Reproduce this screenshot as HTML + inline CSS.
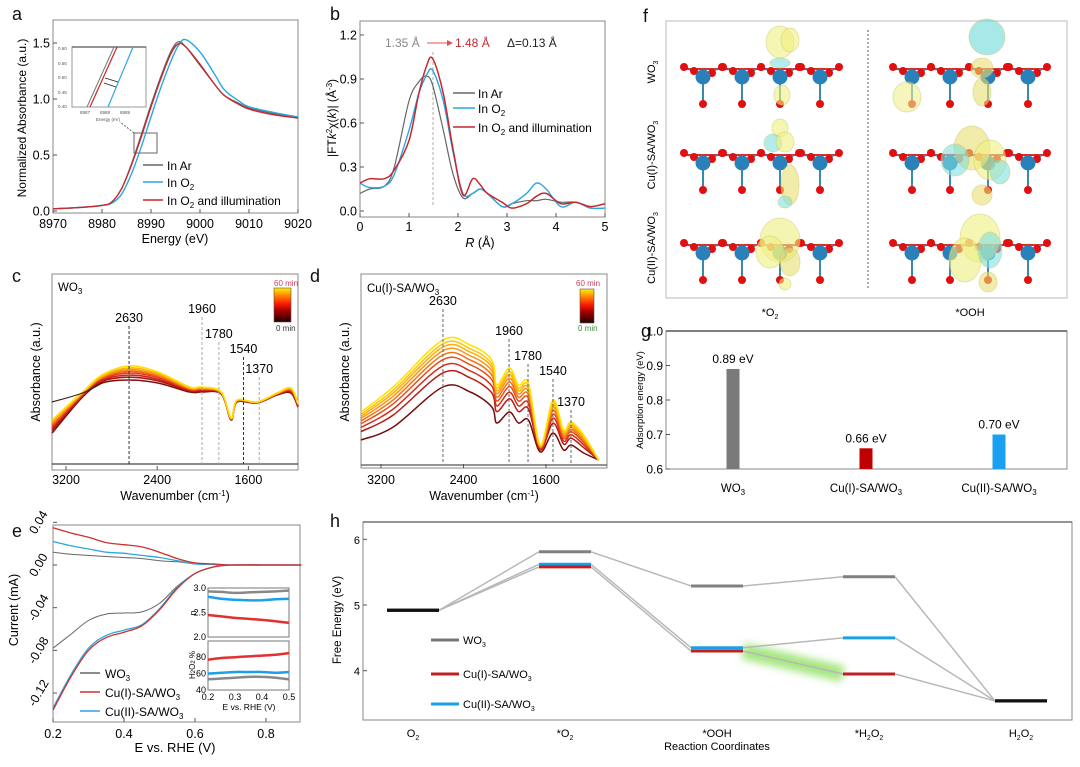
<!DOCTYPE html>
<html><head><meta charset="utf-8"><style>
html,body{margin:0;padding:0;background:#fff;}
svg{display:block;font-family:"Liberation Sans",Arial,sans-serif;}
</style></head><body>
<svg id="fig" width="1080" height="767" viewBox="0 0 1080 767" xmlns="http://www.w3.org/2000/svg">
<rect width="1080" height="767" fill="#fff"/>
<g font-size="18" fill="#111">
<text x="12" y="20">a</text><text x="330" y="20">b</text><text x="12" y="282">c</text><text x="310" y="282">d</text>
<text x="12" y="537">e</text><text x="643" y="22">f</text><text x="641" y="337">g</text><text x="330" y="527">h</text>
</g>

<g id="pa">
<rect x="53" y="20" width="245" height="193" fill="none" stroke="#888" stroke-width="1"/>
<text x="175" y="243" font-size="12.5" text-anchor="middle">Energy (eV)</text>
<text transform="translate(26,118) rotate(-90)" font-size="12" text-anchor="middle">Normalized Absorbance (a.u.)</text>
<rect x="72" y="47" width="74" height="60" fill="#fff" stroke="#999"/>
<line x1="72" y1="47" x2="146" y2="47" stroke="#555" stroke-width="1.2"/>
<line x1="87" y1="107" x2="114" y2="47" stroke="#777" stroke-width="1"/>
<line x1="90" y1="107" x2="117" y2="47" stroke="#c8282e" stroke-width="1.2"/>
<line x1="108" y1="107" x2="133" y2="47" stroke="#29a8e0" stroke-width="1.2"/>
<line x1="105" y1="78" x2="118" y2="82" stroke="#222" stroke-width="0.8"/>
<line x1="104" y1="83" x2="116" y2="87" stroke="#222" stroke-width="0.8"/>
<g font-size="4.5" fill="#555"><text x="58" y="50">0.60</text><text x="58" y="65">0.55</text><text x="58" y="79">0.50</text><text x="58" y="94">0.45</text><text x="58" y="108">0.40</text>
<text x="80" y="114">8987</text><text x="100" y="114">8988</text><text x="120" y="114">8989</text><text x="96" y="121">Energy (eV)</text></g>
<rect x="134" y="133" width="23" height="20" fill="none" stroke="#555" stroke-width="0.9"/>
<line x1="134" y1="133" x2="120" y2="122" stroke="#444" stroke-width="0.8" stroke-dasharray="2,1.5"/>
<g id="a-lines"></g><g id="a-ticks" font-size="12.5"></g>
<g font-size="12">
<line x1="143" y1="165" x2="163" y2="165" stroke="#666" stroke-width="1.4"/><text x="167" y="170">In Ar</text>
<line x1="143" y1="182" x2="163" y2="182" stroke="#29a8e0" stroke-width="1.4"/><text x="167" y="187">In O<tspan font-size="8" dy="3">2</tspan></text>
<line x1="143" y1="200" x2="163" y2="200" stroke="#c8282e" stroke-width="1.4"/><text x="167" y="205">In O<tspan font-size="8" dy="3">2</tspan><tspan dy="-3"> and illumination</tspan></text>
</g>
</g>

<g id="pb">
<rect x="360" y="21" width="245" height="196" fill="none" stroke="#888"/>
<text x="480" y="247" font-size="12.5" text-anchor="middle" font-style="italic">R <tspan font-style="normal">(Å)</tspan></text>
<text transform="translate(336,118) rotate(-90)" font-size="12" text-anchor="middle">|FT<tspan font-style="italic">k</tspan><tspan font-size="8" dy="-4">2</tspan><tspan dy="4">χ(</tspan><tspan font-style="italic">k</tspan>)| (Å<tspan font-size="8" dy="-4">-3</tspan><tspan dy="4">)</tspan></text>
<line x1="433" y1="52" x2="433" y2="205" stroke="#999" stroke-dasharray="3,2" stroke-width="0.8"/>
<text x="385" y="47" font-size="12" fill="#888">1.35 Å</text>
<line x1="427" y1="43" x2="447" y2="43" stroke="#e05050" stroke-width="1"/><path d="M447,40 L453,43 L447,46Z" fill="#e05050"/>
<text x="455" y="47" font-size="12" fill="#c8282e">1.48 Å</text>
<text x="507" y="47" font-size="12" fill="#222">Δ=0.13 Å</text>
<g id="b-lines"></g><g id="b-ticks" font-size="12.5"></g>
<g font-size="12">
<line x1="453" y1="93" x2="475" y2="93" stroke="#666" stroke-width="1.4"/><text x="478" y="98">In Ar</text>
<line x1="453" y1="108" x2="475" y2="108" stroke="#29a8e0" stroke-width="1.4"/><text x="478" y="113">In O<tspan font-size="8" dy="3">2</tspan></text>
<line x1="453" y1="127" x2="475" y2="127" stroke="#c8282e" stroke-width="1.4"/><text x="478" y="132">In O<tspan font-size="8" dy="3">2</tspan><tspan dy="-3"> and illumination</tspan></text>
</g>
</g>

<g id="pc">
<rect x="52" y="274" width="246" height="196" fill="none" stroke="#888"/>
<text x="58" y="291" font-size="11.5">WO<tspan font-size="8" dy="3">3</tspan></text>
<text x="175" y="500" font-size="12.5" text-anchor="middle">Wavenumber (cm<tspan font-size="8" dy="-4">-1</tspan><tspan dy="4">)</tspan></text>
<text transform="translate(40,372) rotate(-90)" font-size="12.5" text-anchor="middle">Absorbance (a.u.)</text>
<g id="c-lines"></g><g id="c-marks" font-size="12.5"></g><g id="c-ticks" font-size="12.5"></g>
</g>

<g id="pd">
<rect x="361" y="274" width="246" height="194" fill="none" stroke="#888"/>
<text x="367" y="292" font-size="11.5">Cu(I)-SA/WO<tspan font-size="8" dy="3">3</tspan></text>
<text x="484" y="500" font-size="12.5" text-anchor="middle">Wavenumber (cm<tspan font-size="8" dy="-4">-1</tspan><tspan dy="4">)</tspan></text>
<text transform="translate(349,372) rotate(-90)" font-size="12.5" text-anchor="middle">Absorbance (a.u.)</text>
<g id="d-lines"></g><g id="d-marks" font-size="12.5"></g><g id="d-ticks" font-size="12.5"></g>
</g>
<defs><linearGradient id="cbar" x1="0" y1="1" x2="0" y2="0">
<stop offset="0" stop-color="#200000"/><stop offset="0.35" stop-color="#b00000"/><stop offset="0.55" stop-color="#ff2000"/><stop offset="0.8" stop-color="#ff9000"/><stop offset="1" stop-color="#ffee00"/></linearGradient>
<filter id="glow" x="-30%" y="-200%" width="160%" height="500%"><feGaussianBlur stdDeviation="4"/></filter></defs>
<g><rect x="274" y="288" width="17" height="34" fill="url(#cbar)" stroke="#555" stroke-width="0.6"/>
<text x="274" y="286" font-size="8" fill="#d04060">60 min</text><text x="276" y="331" font-size="8" fill="#333">0 min</text></g>
<g><rect x="580" y="289" width="14" height="34" fill="url(#cbar)" stroke="#555" stroke-width="0.6"/>
<text x="576" y="286" font-size="8" fill="#d04060">60 min</text><text x="578" y="331" font-size="8" fill="#3a8a3a">0 min</text></g>

<g id="pe">
<rect x="53" y="525" width="247" height="197" fill="none" stroke="#888"/>
<text x="175" y="752" font-size="13" text-anchor="middle">E vs. RHE (V)</text>
<text transform="translate(18,610) rotate(-90)" font-size="12.5" text-anchor="middle">Current (mA)</text>
<g id="e-lines"></g><g id="e-ticks" font-size="12.5"></g>
<rect x="208" y="588" width="81" height="49" fill="#fff" stroke="#777"/>
<rect x="208" y="641" width="81" height="49" fill="#fff" stroke="#777"/>
<g id="e-inset"></g><g id="e-inset-ticks" font-size="9"></g>
<text transform="translate(196,613) rotate(-90)" font-size="9" text-anchor="middle">n</text>
<text transform="translate(195,665) rotate(-90)" font-size="8" text-anchor="middle">H<tspan font-size="6">2</tspan>O<tspan font-size="6">2</tspan> %</text>
<text x="249" y="710" font-size="8.5" text-anchor="middle">E vs. RHE (V)</text>
<g font-size="12">
<line x1="80" y1="673" x2="100" y2="673" stroke="#666" stroke-width="1.4"/><text x="105" y="678">WO<tspan font-size="8" dy="3">3</tspan></text>
<line x1="80" y1="692" x2="100" y2="692" stroke="#d03030" stroke-width="1.4"/><text x="105" y="697">Cu(I)-SA/WO<tspan font-size="8" dy="3">3</tspan></text>
<line x1="80" y1="711" x2="100" y2="711" stroke="#29a8e0" stroke-width="1.4"/><text x="105" y="716">Cu(II)-SA/WO<tspan font-size="8" dy="3">3</tspan></text>
</g>
</g>

<g id="pf">
<rect x="666" y="21" width="401" height="277" fill="none" stroke="#bbb"/>
<line x1="868" y1="30" x2="868" y2="290" stroke="#333" stroke-dasharray="2,2" stroke-width="0.8"/>
<g id="f-atoms"></g>
<text transform="translate(655,72) rotate(-90)" font-size="11" text-anchor="middle">WO<tspan font-size="7" dy="3">3</tspan></text>
<text transform="translate(655,155) rotate(-90)" font-size="11" text-anchor="middle">Cu(I)-SA/WO<tspan font-size="7" dy="3">3</tspan></text>
<text transform="translate(655,248) rotate(-90)" font-size="11" text-anchor="middle">Cu(II)-SA/WO<tspan font-size="7" dy="3">3</tspan></text>
<text x="770" y="316" font-size="11" text-anchor="middle">*O<tspan font-size="7" dy="3">2</tspan></text>
<text x="970" y="316" font-size="11" text-anchor="middle">*OOH</text>
</g>

<g id="pg">
<rect x="666" y="331" width="401" height="138" fill="none" stroke="#888"/>
<line x1="666" y1="331" x2="1067" y2="331" stroke="#555" stroke-width="1.5"/>
<text transform="translate(643,400) rotate(-90)" font-size="9.5" text-anchor="middle">Adsorption energy (eV)</text>
<g id="g-bars" font-size="12"></g><g id="g-ticks" font-size="12"></g>
</g>

<g id="ph">
<rect x="363" y="522" width="709" height="198" fill="none" stroke="#888"/>
<line x1="363" y1="522" x2="1072" y2="522" stroke="#555" stroke-width="1.3"/>
<text x="717" y="750" font-size="11" text-anchor="middle">Reaction Coordinates</text>
<text transform="translate(341,620) rotate(-90)" font-size="11.5" text-anchor="middle">Free Energy (eV)</text>
<g id="h-marks"></g><g id="h-ticks" font-size="11"></g>
<g font-size="11">
<line x1="431" y1="640" x2="459" y2="640" stroke="#777" stroke-width="3"/><text x="463" y="644">WO<tspan font-size="7" dy="3">3</tspan></text>
<line x1="431" y1="674" x2="459" y2="674" stroke="#c02020" stroke-width="3"/><text x="463" y="678">Cu(I)-SA/WO<tspan font-size="7" dy="3">3</tspan></text>
<line x1="431" y1="704" x2="459" y2="704" stroke="#1aa0e8" stroke-width="3"/><text x="463" y="708">Cu(II)-SA/WO<tspan font-size="7" dy="3">3</tspan></text>
</g>
</g>
</svg>
<script>
const aEnergy=[8970,8975,8980,8982,8984,8986,8988,8990,8992,8994,8995.5,8997,9000,9003,9005,9008,9010,9015,9020];
const aAr=[0.02,0.03,0.05,0.08,0.2,0.42,0.68,0.95,1.2,1.42,1.51,1.47,1.3,1.13,1.03,0.96,0.92,0.87,0.83];
const aO2=[0.02,0.03,0.05,0.07,0.15,0.33,0.57,0.84,1.1,1.33,1.47,1.53,1.42,1.22,1.08,0.98,0.93,0.88,0.84];
const aIll=[0.02,0.03,0.05,0.08,0.2,0.41,0.66,0.93,1.18,1.4,1.49,1.47,1.31,1.13,1.03,0.95,0.91,0.86,0.83];
const aXTicks=[8970,8980,8990,9000,9010,9020];
const aYTicks=[0.0,0.5,1.0,1.5];

const bR=[0,0.2,0.5,0.7,1.0,1.2,1.35,1.48,1.7,1.9,2.1,2.3,2.45,2.6,2.9,3.1,3.4,3.6,3.8,4.1,4.4,4.7,5];
const bAr=[0.12,0.15,0.17,0.3,0.75,0.88,0.92,0.86,0.55,0.25,0.09,0.12,0.15,0.12,0.03,0.05,0.07,0.07,0.08,0.06,0.06,0.03,0.05];
const bO2=[0.19,0.16,0.17,0.25,0.55,0.8,0.92,0.96,0.75,0.4,0.12,0.12,0.15,0.12,0.03,0.05,0.12,0.19,0.15,0.03,0.06,0.02,0.02];
const bIll=[0.19,0.22,0.22,0.28,0.48,0.8,0.98,1.04,0.8,0.42,0.11,0.22,0.18,0.12,0.06,0.02,0.05,0.1,0.12,0.05,0.06,0.03,0.05];
const bXTicks=[0,1,2,3,4,5];
const bYTicks=[0.0,0.3,0.6,0.9,1.2];

const cWn=[3322,3055,2884,2647,2394,2116,2011,1838,1752,1700,1525,1349,1227,1165];
const cTop=[0.48,0.76,0.93,1.02,0.96,0.81,0.81,0.76,0.50,0.68,0.66,0.75,0.80,0.65];
const cBottom=[0.35,0.71,0.85,0.88,0.85,0.76,0.76,0.74,0.48,0.66,0.65,0.73,0.75,0.61];
const cBlackWn=[3322,3055,2884,2647,2394,2116,1838,1735,1650,1349,1227,1165];
const cBlack=[0.66,0.75,0.85,0.87,0.85,0.76,0.73,0.65,0.68,0.73,0.76,0.65];
const cFractions=[0,0.2,0.35,0.5,0.62,0.74,0.86,1];
const cPeaks=[2647,2007,1859,1643,1505];
const cPeakLabels=["2630","1960","1780","1540","1370"];
const cPeakLabelY=[1.46,1.55,1.30,1.15,0.95];

const dWn=[3394,3081,2600,2335,2125,2077,1954,1866,1769,1656,1532,1429,1357,1234,1089];
const dBottom=[0.28,0.41,0.81,0.76,0.61,0.45,0.56,0.45,0.48,0.16,0.35,0.18,0.23,0.15,0.08];
const dTop=[0.56,0.81,1.28,1.23,1.08,0.83,1.0,0.83,0.85,0.23,0.68,0.38,0.46,0.33,0.08];
const dFractions=[0,0.3,0.45,0.58,0.68,0.77,0.85,0.92,1];
const dFlat=0.03;
const dPeaks=[2599,1958,1774,1532,1357];
const dPeakLabels=["2630","1960","1780","1540","1370"];
const dPeakLabelY=[1.63,1.33,1.08,0.93,0.62];
const irXTicks=[3200,2400,1600];

const eE=[0.2,0.25,0.3,0.35,0.4,0.45,0.5,0.55,0.6,0.65,0.7,0.8,0.9];
const eWO3Ring=[0.012,0.01,0.009,0.008,0.007,0.006,0.004,0.003,0.001,0.0005,0,0,0];
const eWO3Disk=[-0.078,-0.065,-0.052,-0.046,-0.045,-0.044,-0.036,-0.02,-0.008,-0.002,0,0,0];
const eCu1Ring=[0.035,0.03,0.026,0.021,0.019,0.017,0.012,0.006,0.002,0.001,0,0,0];
const eCu1Disk=[-0.136,-0.105,-0.08,-0.068,-0.063,-0.057,-0.042,-0.022,-0.008,-0.002,0,0,0];
const eCu2Ring=[0.022,0.018,0.015,0.012,0.011,0.009,0.007,0.004,0.001,0.0005,0,0,0];
const eCu2Disk=[-0.134,-0.103,-0.078,-0.066,-0.061,-0.056,-0.041,-0.021,-0.008,-0.002,0,0,0];
const eXTicks=[0.2,0.4,0.6,0.8];
const eYTicks=[0.04,0.00,-0.04,-0.08,-0.12];
const nE=[0.2,0.25,0.3,0.35,0.4,0.45,0.5];
const nWO3=[2.93,2.92,2.9,2.91,2.92,2.93,2.95];
const nCu1=[2.45,2.42,2.39,2.37,2.35,2.32,2.29];
const nCu2=[2.82,2.78,2.76,2.75,2.75,2.77,2.78];
const pWO3=[53,54,55,56,56,55,53];
const pCu1=[77,79,80,81,82,83,85];
const pCu2=[60,61,62,62,62,61,62];

const gCats=["WO3","Cu(I)-SA/WO3","Cu(II)-SA/WO3"];
const gVals=[0.89,0.66,0.70];
const gLabels=["0.89 eV","0.66 eV","0.70 eV"];
const gColors=["#7a7a7a","#c00000","#1aa0f0"];
const gYTicks=[0.6,0.7,0.8,0.9,1.0];

const hSteps=["O2","*O2","*OOH","*H2O2","H2O2"];
const hWO3=[4.92,5.81,5.29,5.43,3.54];
const hCu1=[4.92,5.58,4.30,3.95,3.54];
const hCu2=[4.92,5.62,4.35,4.50,3.54];
const hYTicks=[4,5,6];

const NS="http://www.w3.org/2000/svg";
function mk(tag,attrs,name,parent){
  const el=document.createElementNS(NS,tag);
  for(const k in attrs) el.setAttribute(k,attrs[k]);
  
  
  document.getElementById(parent).appendChild(el);
  return el;
}
function pathD(xs,ys,fx,fy){
  const P=xs.map((x,i)=>[fx(x),fy(ys[i])]);
  let d="M"+P[0][0].toFixed(1)+","+P[0][1].toFixed(1);
  for(let i=0;i<P.length-1;i++){
    const p0=P[Math.max(0,i-1)],p1=P[i],p2=P[i+1],p3=P[Math.min(P.length-1,i+2)];
    const c1x=p1[0]+(p2[0]-p0[0])/6,c1y=p1[1]+(p2[1]-p0[1])/6;
    const c2x=p2[0]-(p3[0]-p1[0])/6,c2y=p2[1]-(p3[1]-p1[1])/6;
    d+=" C"+c1x.toFixed(1)+","+c1y.toFixed(1)+" "+c2x.toFixed(1)+","+c2y.toFixed(1)+" "+p2[0].toFixed(1)+","+p2[1].toFixed(1);
  }
  return d;
}
function curve(parent,xs,ys,fx,fy,color,w,name){
  return mk('path',{d:pathD(xs,ys,fx,fy),fill:'none',stroke:color,'stroke-width':w},name,parent);
}
function xTicks(parent,ticks,fx,y0,fmt,ly){
  ticks.forEach(t=>{const x=fx(t);
    mk('line',{x1:x,y1:y0,x2:x,y2:y0-4,stroke:'#555'},'x-tick',parent);
    const tx=mk('text',{x:x,y:ly,'text-anchor':'middle'},'x-tick-label',parent); tx.textContent=fmt(t);});
}
function yTicks(parent,ticks,fy,x0,fmt,anchorX){
  ticks.forEach(t=>{const y=fy(t);
    mk('line',{x1:x0,y1:y,x2:x0+4,y2:y,stroke:'#555'},'y-tick',parent);
    const tx=mk('text',{x:anchorX,y:y+4.5,'text-anchor':'end'},'y-tick-label',parent); tx.textContent=fmt(t);});
}
function lerpColor(f){
  const stops=[[0,[90,10,10]],[0.3,[170,20,20]],[0.55,[225,50,30]],[0.8,[250,150,20]],[1,[255,225,0]]];
  for(let i=0;i<stops.length-1;i++){ if(f<=stops[i+1][0]){const t=(f-stops[i][0])/(stops[i+1][0]-stops[i][0]);
    const c=stops[i][1].map((v,k)=>Math.round(v+(stops[i+1][1][k]-v)*t)); return `rgb(${c[0]},${c[1]},${c[2]})`;}}
  return 'rgb(255,225,0)';
}

const ax=v=>53+(v-8970)*4.9, ay=v=>211-v*112;
curve('a-lines',aEnergy,aAr,ax,ay,'#666',1.2,'line-in-ar');
curve('a-lines',aEnergy,aO2,ax,ay,'#29a8e0',1.4,'line-in-o2');
curve('a-lines',aEnergy,aIll,ax,ay,'#c8282e',1.4,'line-in-o2-illumination');
xTicks('a-ticks',aXTicks,ax,213,t=>t,228);
yTicks('a-ticks',aYTicks,ay,53,t=>t.toFixed(1),50);

const bx=r=>360+r*49, by=v=>211-v*146.7;
curve('b-lines',bR,bAr,bx,by,'#666',1.2,'line-in-ar');
curve('b-lines',bR,bO2,bx,by,'#29a8e0',1.4,'line-in-o2');
curve('b-lines',bR,bIll,bx,by,'#c8282e',1.5,'line-in-o2-illumination');
xTicks('b-ticks',bXTicks,bx,217,t=>t,231);
yTicks('b-ticks',bYTicks,by,360,t=>t.toFixed(1),357);

const cx=v=>66+(3200-v)*0.114, iy=v=>468-v*100;
cFractions.forEach((f,i)=>{
  const ys=cBottom.map((b,k)=>b+(cTop[k]-b)*f);
  curve('c-lines',cWn,ys,cx,iy,lerpColor(0.15+0.85*f),1.6,'ir-spectrum-c');
});
curve('c-lines',cBlackWn.slice(0,3),cBlack.slice(0,3),cx,iy,'#3a2020',1.2,'ir-spectrum-c-initial');
mk('line',{x1:52,y1:iy(0.04),x2:298,y2:iy(0.04),stroke:'#444','stroke-width':1.2},'baseline-c','c-lines');
cPeaks.forEach((p,i)=>{const x=cx(p);
  mk('line',{x1:x,y1:iy(cPeakLabelY[i])+4,x2:x,y2:iy(0.04),stroke:i==0||i==3?'#333':'#aaa','stroke-dasharray':'3,2','stroke-width':1},'peak-marker-c','c-marks');
  const t=mk('text',{x:x,y:iy(cPeakLabelY[i]),'text-anchor':'middle'},'peak-label-c','c-marks'); t.textContent=cPeakLabels[i];});
xTicks('c-ticks',irXTicks,cx,470,t=>t,484);

const dx=v=>381+(3200-v)*0.1031;
dFractions.forEach((f,i)=>{
  const ys=dBottom.map((b,k)=>b+(dTop[k]-b)*f);
  curve('d-lines',dWn,ys,dx,iy,lerpColor(0.1+0.9*f),1.5,'ir-spectrum-d');
});
mk('line',{x1:361,y1:iy(dFlat),x2:607,y2:iy(dFlat),stroke:'#555','stroke-width':1.2},'initial-spectrum-d','d-lines');
dPeaks.forEach((p,i)=>{const x=dx(p);
  mk('line',{x1:x,y1:iy(dPeakLabelY[i])+4,x2:x,y2:iy(0.04),stroke:'#666','stroke-dasharray':'3,2','stroke-width':1},'peak-marker-d','d-marks');
  const t=mk('text',{x:x,y:iy(dPeakLabelY[i]),'text-anchor':'middle'},'peak-label-d','d-marks'); t.textContent=dPeakLabels[i];});
xTicks('d-ticks',irXTicks,dx,468,t=>t,484);

const ex=v=>53+(v-0.2)*355, ey=v=>565-v*1067;
curve('e-lines',eE,eWO3Ring,ex,ey,'#666',1,'ring-current-wo3');
curve('e-lines',eE,eWO3Disk,ex,ey,'#666',1,'disk-current-wo3');
curve('e-lines',eE,eCu2Ring,ex,ey,'#29a8e0',1.3,'ring-current-cu2');
curve('e-lines',eE,eCu2Disk,ex,ey,'#29a8e0',1.3,'disk-current-cu2');
curve('e-lines',eE,eCu1Ring,ex,ey,'#d03030',1.3,'ring-current-cu1');
curve('e-lines',eE,eCu1Disk,ex,ey,'#d03030',1.3,'disk-current-cu1');
xTicks('e-ticks',eXTicks,ex,722,t=>t.toFixed(1),738);
eYTicks.forEach(t=>{const y=ey(t);
  mk('line',{x1:53,y1:y,x2:57,y2:y,stroke:'#555'},'y-tick','e-ticks');
  const tx=mk('text',{transform:`translate(42,${y+2}) rotate(-60)`,'text-anchor':'middle'},'y-tick-label','e-ticks'); tx.textContent=t.toFixed(2);});
const nx=v=>208+(v-0.2)*270, ny=v=>637-(v-2)*49, py=v=>690-(v-40)*0.82;
curve('e-inset',nE,nWO3,nx,ny,'#888',2.5,'n-wo3');
curve('e-inset',nE,nCu2,nx,ny,'#1aa0e8',2.5,'n-cu2');
curve('e-inset',nE,nCu1,nx,ny,'#e03030',2.5,'n-cu1');
curve('e-inset',nE,pWO3,nx,py,'#888',2.5,'h2o2-wo3');
curve('e-inset',nE,pCu2,nx,py,'#1aa0e8',2.5,'h2o2-cu2');
curve('e-inset',nE,pCu1,nx,py,'#e03030',2.5,'h2o2-cu1');
[2.0,2.5,3.0].forEach(t=>{const tx=mk('text',{x:206,y:ny(t)+3,'text-anchor':'end'},'inset-tick-label','e-inset-ticks'); tx.textContent=t.toFixed(1);});
[40,60,80].forEach(t=>{const tx=mk('text',{x:206,y:py(t)+3,'text-anchor':'end'},'inset-tick-label','e-inset-ticks'); tx.textContent=t;});
[0.2,0.3,0.4,0.5].forEach(t=>{const tx=mk('text',{x:nx(t),y:700,'text-anchor':'middle'},'inset-tick-label','e-inset-ticks'); tx.textContent=t.toFixed(1);});

const fRows=[77,163,253];
const fCols=[[703,742,780,820],[912,950,988,1028]];
fRows.forEach((ry,ri)=>{fCols.forEach((cols,ci)=>{
  cols.forEach((wx,k)=>{
    mk('line',{x1:wx-18,y1:ry-8,x2:wx+18,y2:ry-8,stroke:'#d03030','stroke-width':2},'bond','f-atoms');
    mk('line',{x1:wx,y1:ry,x2:wx,y2:ry+25,stroke:'#3a8ab0','stroke-width':2},'bond','f-atoms');
    mk('line',{x1:wx,y1:ry,x2:wx-14,y2:ry-8,stroke:'#3a8ab0','stroke-width':2},'bond','f-atoms');
    mk('line',{x1:wx,y1:ry,x2:wx+14,y2:ry-8,stroke:'#3a8ab0','stroke-width':2},'bond','f-atoms');
  });
  cols.forEach((wx,k)=>{
    [[-19,-10],[19,-10],[-9,-6],[9,-4]].forEach(o=>mk('circle',{cx:wx+o[0],cy:ry+o[1],r:4,fill:'#e01010'},'oxygen-atom','f-atoms'));
    mk('circle',{cx:wx,cy:ry+27,r:4,fill:'#e01010'},'oxygen-atom','f-atoms');
    mk('circle',{cx:wx,cy:ry,r:7.5,fill:'#2a80b8'},'tungsten-atom','f-atoms');
  });
});});
const blobs=[[780,42,14,16,'#f0f080'],[790,40,9,12,'#f0f080'],[780,63,10,5,'#80e0e0'],[782,95,8,10,'#f0f080'],
[987,37,18,18,'#70d8d8'],[982,68,11,10,'#e8e070'],[982,92,9,14,'#e8e070'],[907,97,14,15,'#eeee90'],
[780,128,8,9,'#f0f080'],[773,143,9,9,'#80e0e0'],[785,142,9,10,'#f0f080'],[790,185,9,20,'#e8e070'],[785,202,7,6,'#80e0e0'],
[972,148,18,22,'#e8e070'],[955,160,14,16,'#80e0e0'],[990,160,16,20,'#f0f080'],[1000,172,10,12,'#80e0e0'],[982,195,10,10,'#e8e070'],
[780,240,20,22,'#eeee80'],[770,252,14,16,'#f0f080'],[790,262,10,14,'#e8e070'],[785,284,6,6,'#f0f080'],
[980,238,20,24,'#f0f080'],[965,260,16,22,'#eeee80'],[990,250,12,18,'#80e0e0'],[988,282,9,10,'#e8e070']];
blobs.forEach(b=>mk('ellipse',{cx:b[0],cy:b[1],rx:b[2],ry:b[3],fill:b[4],'fill-opacity':0.6,stroke:'#c8c060','stroke-opacity':0.4},'charge-density-blob','f-atoms'));

const gx=i=>733+i*133, gy=v=>469-(v-0.6)*345;
gVals.forEach((v,i)=>{
  mk('rect',{x:gx(i)-6.5,y:gy(v),width:13,height:469-gy(v),fill:gColors[i]},'bar-'+i,'g-bars');
  const t=mk('text',{x:gx(i),y:gy(v)-6,'text-anchor':'middle'},'bar-value-label','g-bars'); t.textContent=gLabels[i];
  const c=mk('text',{x:gx(i),y:492,'text-anchor':'middle','font-size':11.5},'category-label','g-bars');
  c.textContent=gCats[i].replace('3','');
  const s=document.createElementNS(NS,'tspan'); s.setAttribute('font-size','8'); s.setAttribute('dy','3'); s.textContent='3';
  
  
  c.appendChild(s);
});
yTicks('g-ticks',gYTicks,gy,666,t=>t.toFixed(1),663);

const hx=i=>413+i*152, hy=v=>605-(v-5)*65.7, hw=26;
const hSeries=[[hWO3,'#808080'],[hCu2,'#1aa0e8'],[hCu1,'#c02020']];
mk('line',{x1:hx(2)+hw,y1:hy(hCu1[2]),x2:hx(3)-hw,y2:hy(hCu1[3]),stroke:'#8ee060','stroke-width':16,filter:'url(#glow)','stroke-opacity':0.8},'highlight-path','h-marks');
hSeries.forEach(s=>{const vals=s[0];
  for(let i=0;i<vals.length-1;i++) mk('line',{x1:hx(i)+hw,y1:hy(vals[i]),x2:hx(i+1)-hw,y2:hy(vals[i+1]),stroke:'#b8b8b8','stroke-width':1.5},'connector','h-marks');});
hSeries.forEach(s=>{const vals=s[0];
  vals.forEach((v,i)=>{const col=(i==0||i==vals.length-1)?'#111':s[1];
    mk('line',{x1:hx(i)-hw,y1:hy(v),x2:hx(i)+hw,y2:hy(v),stroke:col,'stroke-width':3},'energy-level','h-marks');});});
yTicks('h-ticks',hYTicks,hy,363,t=>t,360);
hSteps.forEach((s,i)=>{
  const t=mk('text',{x:hx(i),y:737,'text-anchor':'middle'},'step-label','h-ticks');
  const parts=s==='*OOH'?[['*OOH',0]]:s==='O2'?[['O',0],['2',1]]:s==='*O2'?[['*O',0],['2',1]]:s==='*H2O2'?[['*H',0],['2',1],['O',0],['2',1]]:[['H',0],['2',1],['O',0],['2',1]];
  let sub=false;
  parts.forEach(p=>{const sp=document.createElementNS(NS,'tspan'); sp.textContent=p[0];
    if(p[1]&&!sub){sp.setAttribute('dy','3');sp.setAttribute('font-size','7');sub=true;}
    else if(!p[1]&&sub){sp.setAttribute('dy','-3');sub=false;}
    
    
    t.appendChild(sp);});
});
</script>
</body></html>
